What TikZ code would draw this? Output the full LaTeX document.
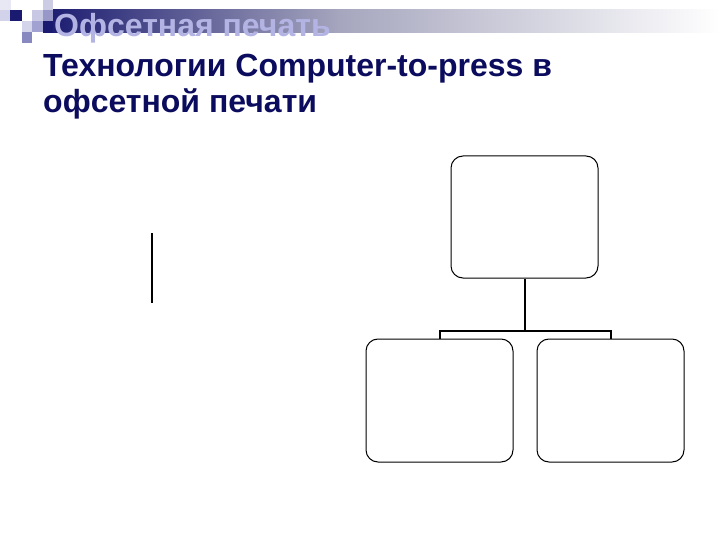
\documentclass[tikz,border=0pt]{standalone}
\usepackage{fontspec}
\setmainfont{Liberation Sans}
\definecolor{navy}{HTML}{1A1A70}
\definecolor{navytext}{HTML}{0C0C5E}
\definecolor{lav}{HTML}{B4B4E4}
\definecolor{barmid}{HTML}{A6A6BE}
\tikzset{
  orgbox/.style={draw=black, line width=1pt, rounded corners=12pt, fill=white},
  link/.style={draw=black, line width=2pt},
  sq/.style={draw=none},
}
\begin{document}
\begin{tikzpicture}[x=1pt,y=-1pt]
\useasboundingbox (0,0) rectangle (720,540);
\fill[white] (0,0) rectangle (720,540);
% header bar
\shade[left color=navy, right color=barmid] (43,10) rectangle (340,33);
\shade[left color=barmid, right color=white] (340,10) rectangle (720,33);
% squares
\fill[sq, fill={rgb,255:red,232;green,232;blue,244}] (0,0) rectangle (11,10);
\fill[sq, fill={rgb,255:red,210;green,210;blue,234}] (0,10) rectangle (10,21);
\fill[sq, fill=navy] (10,10) rectangle (22,21);
\fill[sq, fill={rgb,255:red,200;green,200;blue,228}] (32,10) rectangle (43,21);
\fill[sq, fill={rgb,255:red,204;green,204;blue,228}] (43,0) rectangle (53,10);
\fill[sq, fill={rgb,255:red,152;green,152;blue,200}] (43,10) rectangle (53,21);
\fill[sq, fill=navy] (43,21) rectangle (53,33);
\fill[sq, fill={rgb,255:red,212;green,212;blue,234}] (22,21) rectangle (32,32);
\fill[sq, fill={rgb,255:red,162;green,162;blue,210}] (32,21) rectangle (43,32);
\fill[sq, fill={rgb,255:red,136;green,136;blue,192}] (22,32) rectangle (32,43);
% title
\node[anchor=base west, inner sep=0pt, text=lav, font=\fontsize{32}{38}\selectfont\bfseries] (title) at (54,37) {Офсетная печать};
% main text
\node[anchor=base west, inner sep=0pt, text=navytext, font=\fontsize{32}{36}\selectfont\bfseries] (l1) at (43,77) {Технологии Computer-to-press в};
\node[anchor=base west, inner sep=0pt, text=navytext, font=\fontsize{32}{36}\selectfont\bfseries] (l2) at (43,113) {офсетной печати};
% vertical line
\coordinate (va) at (152,233);
\coordinate (vb) at (152,303);
\draw[link] (va) -- (vb);
% org chart boxes
\node[orgbox, minimum width=147pt, minimum height=122pt] (top) at (524.5,217) {};
\node[orgbox, minimum width=147pt, minimum height=123pt] (left) at (439.5,400.5) {};
\node[orgbox, minimum width=147pt, minimum height=123pt] (right) at (610.5,400.5) {};
\coordinate (junc) at (top.south |- 0,331);
\draw[link] (top.south) -- (junc);
\draw[link] (left.north) -- (left.north |- junc) -- (right.north |- junc) -- (right.north);
\end{tikzpicture}
\end{document}
